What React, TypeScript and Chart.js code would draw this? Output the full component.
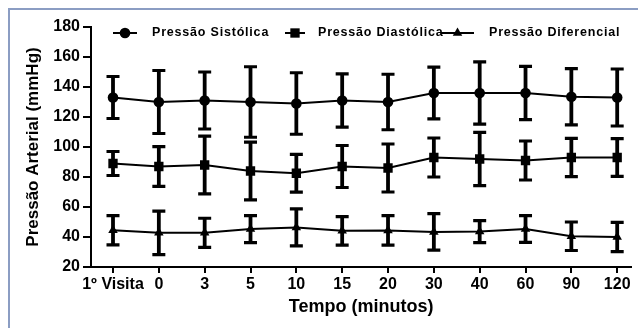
import React, { useEffect, useRef } from 'react';
import { Chart, registerables } from 'chart.js';

Chart.register(...registerables);

const categories = ['1º Visita', '0', '3', '5', '10', '15', '20', '30', '40', '60', '90', '120'];

const sistolicaMean = [133, 130, 131, 130, 129, 131, 130, 136, 136, 136, 133.5, 133];
const sistolicaSD = [14, 21, 19, 23.5, 20.5, 17.7, 18.5, 17.2, 20.8, 17.7, 18.8, 19];

const diastolicaMean = [89, 87, 88, 84, 82.5, 87, 86, 93, 92, 91, 93, 93];
const diastolicaSD = [8, 13.3, 19.3, 19.2, 12.6, 14, 16, 13, 17.8, 13, 12.8, 12.6];

const diferencialMean = [44.5, 42.8, 42.8, 45.3, 46.4, 44.1, 44.4, 43.4, 43.6, 45.3, 40.5, 40];
const diferencialSD = [9.8, 14.5, 9.7, 9, 12.3, 9.5, 9.8, 12.2, 7.3, 8.9, 9.5, 9.8];

const seriesLabels = ['Pressão Sistólica', 'Pressão Diastólica', 'Pressão Diferencial'];
const yMin = 20;
const yMax = 180;
const yStep = 20;

const FONT = "'Liberation Sans', Arial, sans-serif";

function drawMarker(ctx: CanvasRenderingContext2D, style: string, x: number, y: number, r: number) {
  ctx.beginPath();
  if (style === 'circle') {
    ctx.arc(x, y, r, 0, Math.PI * 2);
  } else if (style === 'rect') {
    const s = r * Math.SQRT1_2;
    ctx.rect(x - s, y - s, 2 * s, 2 * s);
  } else {
    const w = r * Math.sqrt(3) / 2;
    ctx.moveTo(x, y - r);
    ctx.lineTo(x + w, y + r / 2);
    ctx.lineTo(x - w, y + r / 2);
    ctx.closePath();
  }
  ctx.fill();
}

const errorBarPlugin = {
  id: 'errorBars',
  beforeDatasetsDraw(chart: any) {
    const { ctx, scales } = chart;
    const x = scales.x;
    const y = scales.y;
    ctx.save();
    ctx.strokeStyle = '#000';
    chart.data.datasets.forEach((ds: any) => {
      const sd: number[] = ds.errors;
      ds.data.forEach((pt: any, i: number) => {
        const px = x.getPixelForValue(pt.x);
        const top = y.getPixelForValue(pt.y + sd[i]);
        const bot = y.getPixelForValue(pt.y - sd[i]);
        ctx.lineWidth = 3.8;
        ctx.beginPath();
        ctx.moveTo(px, top);
        ctx.lineTo(px, bot);
        ctx.stroke();
        ctx.lineWidth = 3.2;
        ctx.beginPath();
        ctx.moveTo(px - 6.5, top);
        ctx.lineTo(px + 6.5, top);
        ctx.moveTo(px - 6.5, bot);
        ctx.lineTo(px + 6.5, bot);
        ctx.stroke();
      });
    });
    ctx.restore();
  },
};

const legendPlugin = {
  id: 'customLegend',
  afterDraw(chart: any) {
    const { ctx } = chart;
    const lineStarts = [103, 275, 431];
    const lineEnds = [127, 295, 464];
    const textStarts = [142, 308, 479];
    const cy = 23;
    ctx.save();
    chart.data.datasets.forEach((ds: any, i: number) => {
      ctx.strokeStyle = '#000';
      ctx.fillStyle = '#000';
      ctx.lineWidth = 2;
      ctx.beginPath();
      ctx.moveTo(lineStarts[i], cy);
      ctx.lineTo(lineEnds[i], cy);
      ctx.stroke();
      drawMarker(ctx, ds.pointStyle, (lineStarts[i] + lineEnds[i]) / 2, cy, ds.pointRadius);
      ctx.font = `bold 12.5px ${FONT}`;
      (ctx as any).letterSpacing = '0.8px';
      ctx.textBaseline = 'middle';
      ctx.textAlign = 'left';
      ctx.fillStyle = '#000';
      ctx.fillText(ds.label, textStarts[i], cy);
    });
    ctx.restore();
  },
};

export default function App() {
  const canvasRef = useRef<HTMLCanvasElement | null>(null);

  useEffect(() => {
    if (!canvasRef.current) return;
    const mk = (vals: number[]) => vals.map((v, i) => ({ x: i, y: v }));
    const base = {
      borderColor: '#000',
      backgroundColor: '#000',
      pointBackgroundColor: '#000',
      pointBorderColor: '#000',
      borderWidth: 2,
      pointBorderWidth: 0,
      tension: 0,
    };
    const chart = new Chart(canvasRef.current, {
      type: 'line',
      data: {
        datasets: [
          { ...base, label: seriesLabels[0], data: mk(sistolicaMean), errors: sistolicaSD, pointStyle: 'circle', pointRadius: 5.3 } as any,
          { ...base, label: seriesLabels[1], data: mk(diastolicaMean), errors: diastolicaSD, pointStyle: 'rect', pointRadius: 6.6 } as any,
          { ...base, label: seriesLabels[2], data: mk(diferencialMean), errors: diferencialSD, pointStyle: 'triangle', pointRadius: 5.5 } as any,
        ],
      },
      options: {
        animation: false,
        responsive: false,
        devicePixelRatio: 1,
        layout: { padding: { top: 17, right: 0, bottom: 0, left: 0 } },
        plugins: {
          legend: { display: false },
          tooltip: { enabled: false },
        },
        scales: {
          x: {
            type: 'linear',
            min: -0.48,
            max: 11.31,
            afterBuildTicks: (s: any) => {
              s.ticks = categories.map((_, i) => ({ value: i }));
            },
            afterFit: (s: any) => {
              s.height = 61;
            },
            ticks: {
              callback: (v: any) => categories[v as number],
              font: { family: FONT, size: 16, weight: 'bold' },
              color: '#000',
              padding: 2,
              maxRotation: 0,
              autoSkip: false,
            },
            grid: { drawOnChartArea: false, drawTicks: true, tickLength: 6, color: '#000', lineWidth: 2 },
            border: { color: '#000', width: 2 },
            title: {
              display: true,
              text: 'Tempo (minutos)',
              font: { family: FONT, size: 18, weight: 'bold' },
              color: '#000',
              padding: { top: 0, bottom: 10 },
            },
          },
          y: {
            type: 'linear',
            min: yMin,
            max: yMax,
            afterFit: (s: any) => {
              s.width = 81;
            },
            ticks: {
              stepSize: yStep,
              font: { family: FONT, size: 16, weight: 'bold' },
              color: '#000',
              padding: 3,
            },
            grid: { drawOnChartArea: false, drawTicks: true, tickLength: 8, color: '#000', lineWidth: 2 },
            border: { color: '#000', width: 2 },
            title: {
              display: true,
              text: 'Pressão Arterial (mmHg)',
              font: { family: FONT, size: 17, weight: 'bold' },
              color: '#000',
              padding: { top: 13, bottom: 0 },
            },
          },
        },
      } as any,
      plugins: [errorBarPlugin, legendPlugin],
    });
    return () => chart.destroy();
  }, []);

  return (
    <div style={{ position: 'fixed', left: 0, top: 0, width: 638, height: 328, background: '#fff', overflow: 'hidden' }}>
      <div
        style={{
          position: 'absolute',
          left: 8,
          top: 8,
          width: 630,
          height: 320,
          boxSizing: 'border-box',
          borderTop: '2px solid #8b9dc3',
          borderLeft: '2px solid #8b9dc3',
        }}
      >
        <canvas ref={canvasRef} width={628} height={318} style={{ display: 'block', width: 628, height: 318 }} />
      </div>
    </div>
  );
}
